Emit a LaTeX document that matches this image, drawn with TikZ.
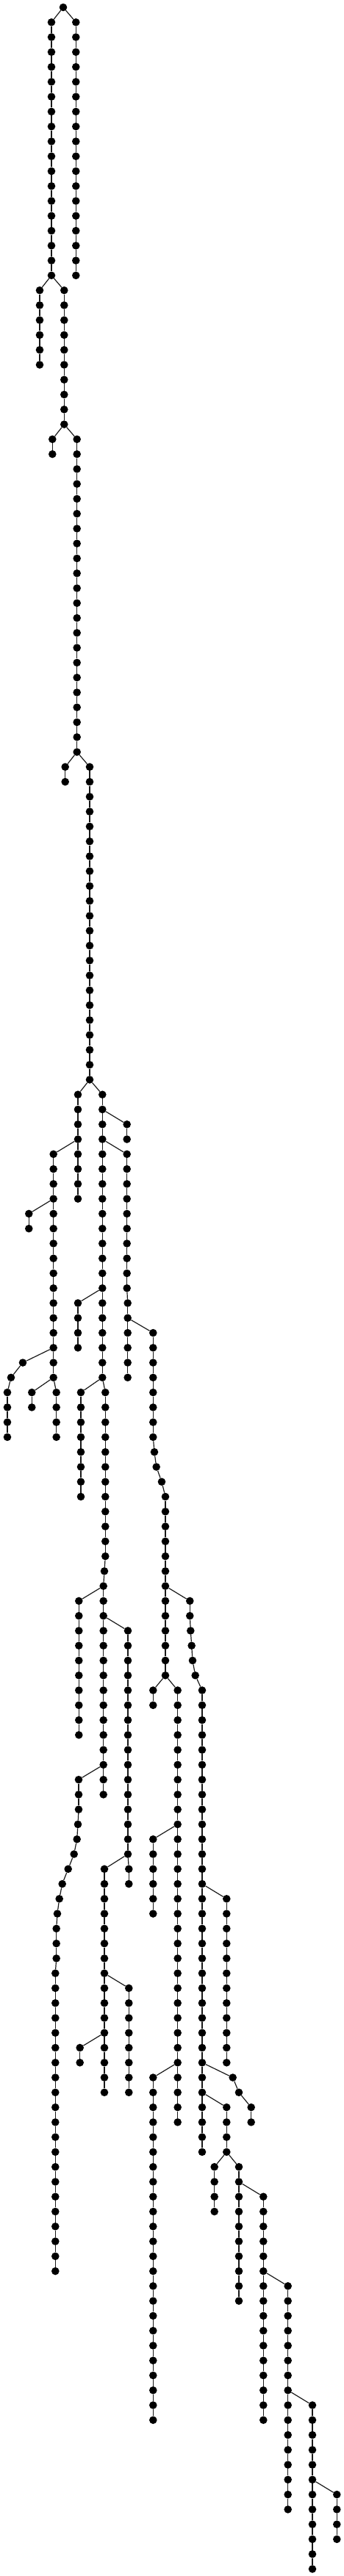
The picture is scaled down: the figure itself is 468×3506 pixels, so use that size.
\documentclass[tikz,border=0pt]{standalone}
\usepackage{tikz}

\tikzset{
  dot/.style={circle, fill=black, inner sep=0pt, minimum size=10.6pt},
  edge/.style={draw=black!90, line width=1.2pt}
}

\newcommand{\dotchain}[4]{%
  \foreach \lev in {#3,...,#4}{%
    \node[dot] (#1-\lev) at (#2,{10+20.27*\lev}) {};
    \ifnum\lev>#3 \pgfmathtruncatemacro{\prv}{\lev-1}\draw[edge] (#1-\prv) -- (#1-\lev);\fi
  }}
\newcommand{\bentchain}[3]{%
  \foreach \xx [count=\cnt from 0] in {#3}{%
    \pgfmathtruncatemacro{\lev}{#2+\cnt}
    \node[dot] (#1-\lev) at (\xx,{10+20.27*\lev}) {};
    \ifnum\cnt>0 \pgfmathtruncatemacro{\prv}{\lev-1}\draw[edge] (#1-\prv) -- (#1-\lev);\fi
  }}

\begin{document}
\begin{tikzpicture}[x=1pt, y=-1pt]
    \useasboundingbox (0,0) rectangle (468,3506);

    \node[dot] (root) at (86,10) {};
    \dotchain{c1}{70}{1}{18}
    \dotchain{c2}{103.3}{1}{18}
    \dotchain{c3}{54}{19}{24}
    \dotchain{c4}{87.3}{19}{28}
    \dotchain{c5}{71.3}{29}{30}
    \dotchain{c6}{104.7}{29}{50}
    \dotchain{c7}{88.7}{51}{52}
    \dotchain{c8}{122}{51}{72}
    \dotchain{c9}{106}{73}{80}
    \dotchain{c10}{139.3}{73}{92}
    \dotchain{c10}{143.3}{93}{104}
    \dotchain{c10}{142}{105}{105}
    \dotchain{c10}{140.7}{106}{120}
    \dotchain{c11}{172.7}{75}{76}
    \dotchain{c12}{172.7}{77}{86}
    \dotchain{c12}{173.7}{87}{92}
    \dotchain{c13}{106}{87}{90}
    \dotchain{c14}{110}{93}{100}
    \dotchain{c15}{107.3}{107}{116}
    \dotchain{c16}{174}{109}{124}
    \dotchain{c16}{175.3}{125}{126}
    \bentchain{c17}{119}{107,107,107,106,104.7,100.7,92.7,84.7,80.7,78,76.7,76.7,76.7}
    \dotchain{c17}{75.3}{132}{152}
    \dotchain{c18}{142}{125}{140}
    \dotchain{c19}{175.3}{133}{140}
    \dotchain{c20}{108.7}{137}{138}
    \dotchain{c21}{72.7}{77}{92}
    \dotchain{c21}{76.7}{93}{96}
    \dotchain{c22}{39.3}{81}{82}
    \bentchain{c23}{91}{31,15,10,10,10,10}
    \dotchain{c24}{43.3}{93}{94}
    \dotchain{c25}{208.3}{89}{96}
    \bentchain{c25}{97}{210,212.7,220}
    \dotchain{c25}{225}{100}{112}
    \bentchain{c26}{107}{258.3,258.3,259.3,260.7,262,265.7}
    \dotchain{c26}{275}{113}{144}
    \dotchain{c27}{208.3}{113}{114}
    \dotchain{c28}{241.7}{113}{142}
    \dotchain{c29}{208.3}{123}{128}
    \dotchain{c30}{208.3}{139}{162}
    \dotchain{c31}{308.3}{127}{138}
    \bentchain{c32}{139}{316.7,325,341.7,341.7}
    \dotchain{c33}{308.3}{141}{144}
    \dotchain{c34}{291.7}{145}{148}
    \dotchain{c35}{325}{145}{154}
    \dotchain{c36}{358.3}{147}{162}
    \dotchain{c37}{391.7}{153}{168}
    \dotchain{c38}{425}{161}{172}
    \dotchain{c39}{458.3}{167}{170}

    \foreach \from/\to in {root/c1-1, root/c2-1, c1-18/c3-19, c1-18/c4-19,
        c4-28/c5-29, c4-28/c6-29, c6-50/c7-51, c6-50/c8-51,
        c8-72/c9-73, c8-72/c10-73, c10-92/c10-93, c10-104/c10-105, c10-105/c10-106,
        c10-74/c11-75, c10-76/c12-77, c12-86/c12-87, c10-86/c13-87,
        c10-92/c14-93, c10-106/c15-107, c10-108/c16-109, c16-124/c16-125,
        c10-118/c17-119, c17-131/c17-132, c16-124/c18-125, c18-132/c19-133,
        c18-136/c20-137, c9-76/c21-77, c21-92/c21-93, c21-80/c22-81,
        c21-90/c23-91, c21-92/c24-93, c12-88/c25-89, c25-96/c25-97, c25-99/c25-100,
        c25-106/c26-107, c26-112/c26-113, c25-112/c27-113, c25-112/c28-113,
        c28-122/c29-123, c28-138/c30-139, c26-126/c31-127, c26-138/c32-139,
        c26-140/c33-141, c33-144/c34-145, c33-144/c35-145, c35-146/c36-147,
        c36-152/c37-153, c37-160/c38-161, c38-166/c39-167}
        \draw[edge] (\from) -- (\to);
\end{tikzpicture}
\end{document}
